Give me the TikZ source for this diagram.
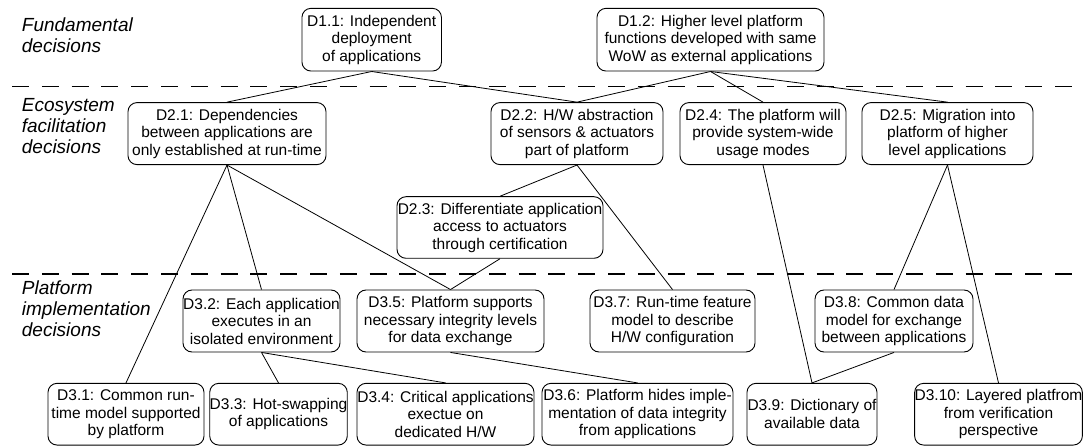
\documentclass[tikz,border=0pt]{standalone}
\usepackage{fontspec}
\setmainfont{Liberation Sans}
\begin{document}
\begin{tikzpicture}[x=1pt,y=-1pt,
  dbox/.style={draw, rounded corners=9pt, align=center, inner sep=0pt, line width=0.9pt,
    font=\fontsize{15.5}{17.5}\selectfont},
  lvl/.style={anchor=north west, align=left, inner sep=0pt,
    font=\fontsize{19}{21}\selectfont\itshape},
  sep/.style={line width=1.2pt, dash pattern=on 17pt off 12.8pt},
  con/.style={line width=0.8pt}]
\useasboundingbox (0,0) rectangle (1084,446);
% level separators
\coordinate (s1a) at (12,86.7); \coordinate (s1b) at (1072,86.7);
\coordinate (s2a) at (12,274); \coordinate (s2b) at (1072,274);
\draw[sep] (s1a) -- (s1b);
\draw[sep] (s2a) -- (s2b);
% level labels
\node[lvl] (lf) at (21.7,17.5) {Fundamental\\decisions};
\node[lvl] (le) at (21.7,98.2) {Ecosystem\\facilitation\\decisions};
\node[lvl] (lp) at (21.7,280.5) {Platform\\implementation\\decisions};
% level 1
\node[dbox, minimum width=139.5pt, minimum height=62.7pt] (d11) at (371.7,39.7) {D1.1: Independent\\deployment\\of applications};
\node[dbox, minimum width=227pt, minimum height=62.7pt] (d12) at (710.5,39.7) {D1.2: Higher level platform\\functions developed with same\\WoW as external applications};
% level 2
\node[dbox, minimum width=198pt, minimum height=62pt] (d21) at (227,133.6) {D2.1: Dependencies\\between applications are\\only established at run-time};
\node[dbox, minimum width=172pt, minimum height=62pt] (d22) at (577,133.6) {D2.2: H/W abstraction\\of sensors \& actuators\\part of platform};
\node[dbox, minimum width=166pt, minimum height=62pt] (d24) at (763,133.6) {D2.4: The platform will\\provide system-wide\\usage modes};
\node[dbox, minimum width=171pt, minimum height=62pt] (d25) at (947.5,133.6) {D2.5: Migration into\\platform of higher\\level applications};
\node[dbox, minimum width=206pt, minimum height=61.6pt] (d23) at (500,227.5) {D2.3: Differentiate application\\access to actuators\\through certification};
% level 3 upper row
\node[dbox, minimum width=157pt, minimum height=62pt] (d32) at (261.5,321) {D3.2: Each application\\executes in an\\isolated environment};
\node[dbox, minimum width=187pt, minimum height=62pt] (d35) at (450.5,321) {D3.5: Platform supports\\necessary integrity levels\\for data exchange};
\node[dbox, minimum width=165pt, minimum height=62pt] (d37) at (672.5,321) {D3.7: Run-time feature\\model to describe\\H/W configuration};
\node[dbox, minimum width=158pt, minimum height=62pt] (d38) at (894,321) {D3.8: Common data\\model for exchange\\between applications};
% level 3 lower row
\node[dbox, minimum width=156pt, minimum height=61.7pt] (d31) at (126,414.2) {D3.1: Common run-\\time model supported\\by platform};
\node[dbox, minimum width=133pt, minimum height=61.7pt] (d33) at (278.5,414.2) {D3.3: Hot-swapping\\of applications};
\node[dbox, minimum width=177pt, minimum height=61.7pt] (d34) at (445.5,414.2) {D3.4: Critical applications\\exectue on\\dedicated H/W};
\node[dbox, minimum width=191pt, minimum height=61.7pt] (d36) at (637.5,414.2) {D3.6: Platform hides imple-\\mentation of data integrity\\from applications};
\node[dbox, minimum width=130pt, minimum height=61.7pt] (d39) at (812,414.2) {D3.9: Dictionary of\\available data};
\node[dbox, minimum width=167pt, minimum height=61.7pt] (d310) at (998.5,414.2) {D3.10: Layered platfrom\\from verification\\perspective};
% connectors
\draw[con] (d11.south) -- (d21.north);
\draw[con] (d11.south) -- (d22.north);
\draw[con] (d12.south) -- (d22.north);
\draw[con] (d12.south) -- (d24.north);
\draw[con] (d12.south) -- (d25.north);
\draw[con] (d21.south) -- (d31.north);
\draw[con] (d21.south) -- (d32.north);
\draw[con] (d21.south) -- (d35.north);
\draw[con] (d22.south) -- (d23.north);
\draw[con] (d22.south) -- (d37.north);
\draw[con] (d23.south) -- (d35.north);
\draw[con] (d24.south) -- (d39.north);
\draw[con] (d25.south) -- (d38.north);
\draw[con] (d25.south) -- (d310.north);
\draw[con] (d32.south) -- (d33.north);
\draw[con] (d32.south) -- (d34.north);
\draw[con] (d35.south) -- (d36.north);
\draw[con] (d38.south) -- (d39.north);
\end{tikzpicture}
\end{document}
